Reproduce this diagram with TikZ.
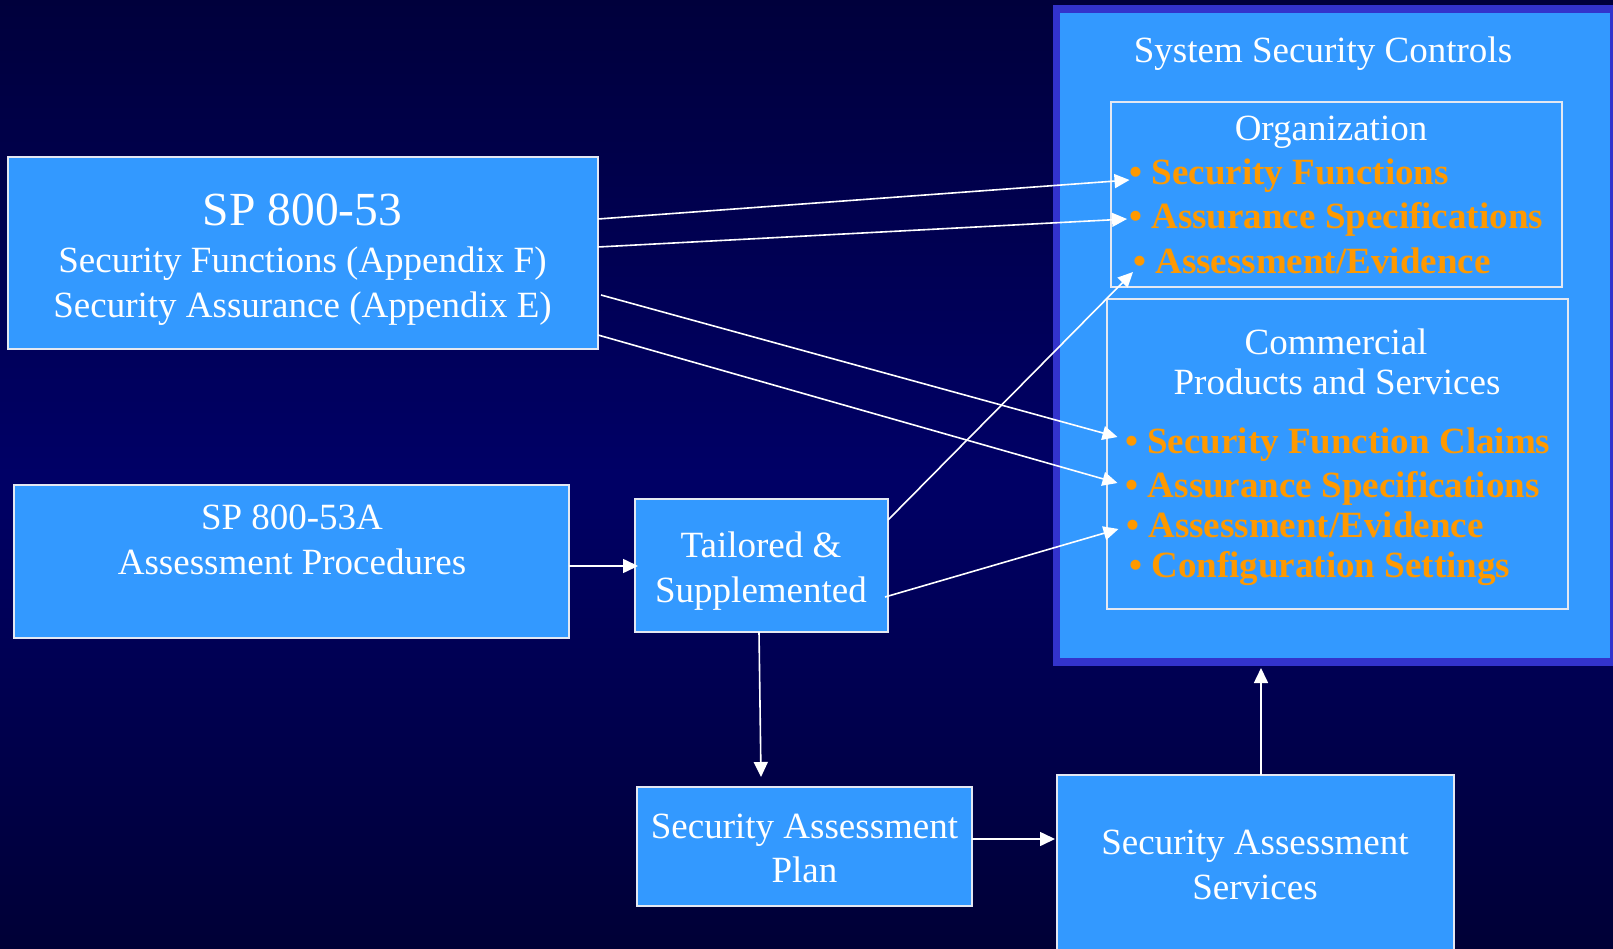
\documentclass[tikz,border=0pt]{standalone}
\usepackage{fontspec}
\setmainfont{Liberation Serif}
\usetikzlibrary{arrows.meta,calc}
\definecolor{bgtop}{HTML}{00003C}
\definecolor{bgmid}{HTML}{000066}
\definecolor{bgbot}{HTML}{000036}
\definecolor{boxblue}{HTML}{3399FF}
\definecolor{frameblue}{HTML}{3333CC}
\definecolor{itemorange}{HTML}{FF9900}
\definecolor{boxline}{RGB}{228,232,242}
\tikzset{
  box/.style={draw=boxline, line width=1.6pt, fill=boxblue, inner sep=0pt, outer sep=0pt, anchor=center},
  inner/.style={draw=boxline, line width=1.6pt, inner sep=0pt, outer sep=0pt, anchor=center},
  txt/.style={text=white, inner sep=0pt, anchor=base, font=\fontsize{37}{44}\selectfont},
  bigtxt/.style={text=white, inner sep=0pt, anchor=base, font=\fontsize{47.5}{54}\selectfont},
  item/.style={text=itemorange, inner sep=0pt, anchor=base west, font=\fontsize{37}{44}\selectfont\bfseries},
  conn/.style={draw=white, line width=1.6pt, -{Triangle[length=15pt,width=14pt]}}
}
\begin{document}
\begin{tikzpicture}[x=1pt,y=-1pt]
\useasboundingbox (0,0) rectangle (1613,949);
\shade[top color=bgtop, bottom color=bgbot, middle color=bgmid] (0,0) rectangle (1613,949);

% container
\node[draw=frameblue, line width=7.5pt, fill=boxblue, inner sep=0pt, outer sep=0pt,
      minimum width=557.5pt, minimum height=653pt] (ssc) at (1335.25,335.5) {};
\node[txt] (ssct) at (1323,63) {System Security Controls};

% organization
\node[inner, minimum width=451pt, minimum height=185pt] (org) at (1336.5,194.5) {};
\node[txt] (orgt) at (1331,141) {Organization};
\node[item] (o1) at (1129.5,185) {• Security Functions};
\node[item] (o2) at (1129,229) {• Assurance Specifications};
\node[item] (o3) at (1133,274) {• Assessment/Evidence};

% commercial
\node[inner, minimum width=461pt, minimum height=310pt] (com) at (1337.5,454) {};
\node[txt] (comt1) at (1336,354) {Commercial};
\node[txt] (comt2) at (1337,394) {Products and Services};
\node[item] (c1) at (1125,453) {• Security Function Claims};
\node[item] (c2) at (1125.5,497) {• Assurance Specifications};
\node[item] (c3) at (1126,537) {• Assessment/Evidence};
\node[item] (c4) at (1129,577) {• Configuration Settings};

% left boxes
\node[box, minimum width=590pt, minimum height=192pt] (sp53) at (303,253) {};
\node[bigtxt] (sp53t1) at (302.5,226) {SP 800-53};
\node[txt] (sp53t2) at (302.5,273) {Security Functions (Appendix F)};
\node[txt] (sp53t3) at (302.5,317) {Security Assurance (Appendix E)};

\node[box, minimum width=555pt, minimum height=153pt] (sp53a) at (291.5,561.5) {};
\node[txt] (sp53at1) at (292,529) {SP 800-53A};
\node[txt] (sp53at2) at (292,574) {Assessment Procedures};

\node[box, minimum width=253pt, minimum height=133pt] (tail) at (761.5,565.5) {};
\node[txt] (tailt1) at (761,557) {Tailored \&};
\node[txt] (tailt2) at (761,602) {Supplemented};

\node[box, minimum width=335pt, minimum height=119pt] (plan) at (804.5,846.5) {};
\node[txt] (plant1) at (804.5,838) {Security Assessment};
\node[txt] (plant2) at (804.5,882) {Plan};

\node[box, minimum width=397pt, minimum height=185pt] (serv) at (1255.5,867.5) {};
\node[txt] (servt1) at (1255,854) {Security Assessment};
\node[txt] (servt2) at (1255,899) {Services};

% connectors
\draw[conn] ($(sp53.north east)+(0,62)$) -- ($(o1.base west)+(0,-5)$);
\draw[conn] ($(sp53.north east)+(0,90)$) -- ($(o2.base west)+(-2,-10)$);
\draw[conn] ($(sp53.north east)+(3,138)$) -- ($(c1.base west)+(-7.5,-16)$);
\draw[conn] ($(sp53.north east)+(0,178)$) -- ($(c2.base west)+(-8,-14)$);
\draw[conn] ($(sp53a.east)+(0,4.5)$) -- ($(tail.west)+(3,0.5)$);
\draw[conn] ($(tail.north east)+(0,21)$) -- ($(o3.base west)+(0,-2)$);
\draw[conn] ($(tail.east)+(-3,31.5)$) -- ($(c3.base west)+(-7.5,-8)$);
\draw[conn] ($(tail.south)+(-2.5,0)$) -- ($(plan.north)+(-43.5,-10)$);
\draw[conn] ($(plan.east)+(0,-7.5)$) -- ($(serv.west)+(-2,-28.5)$);
\draw[conn] ($(serv.north west)+(204,0)$) -- ($(ssc.south west)+(204.5,6)$);
\end{tikzpicture}
\end{document}
